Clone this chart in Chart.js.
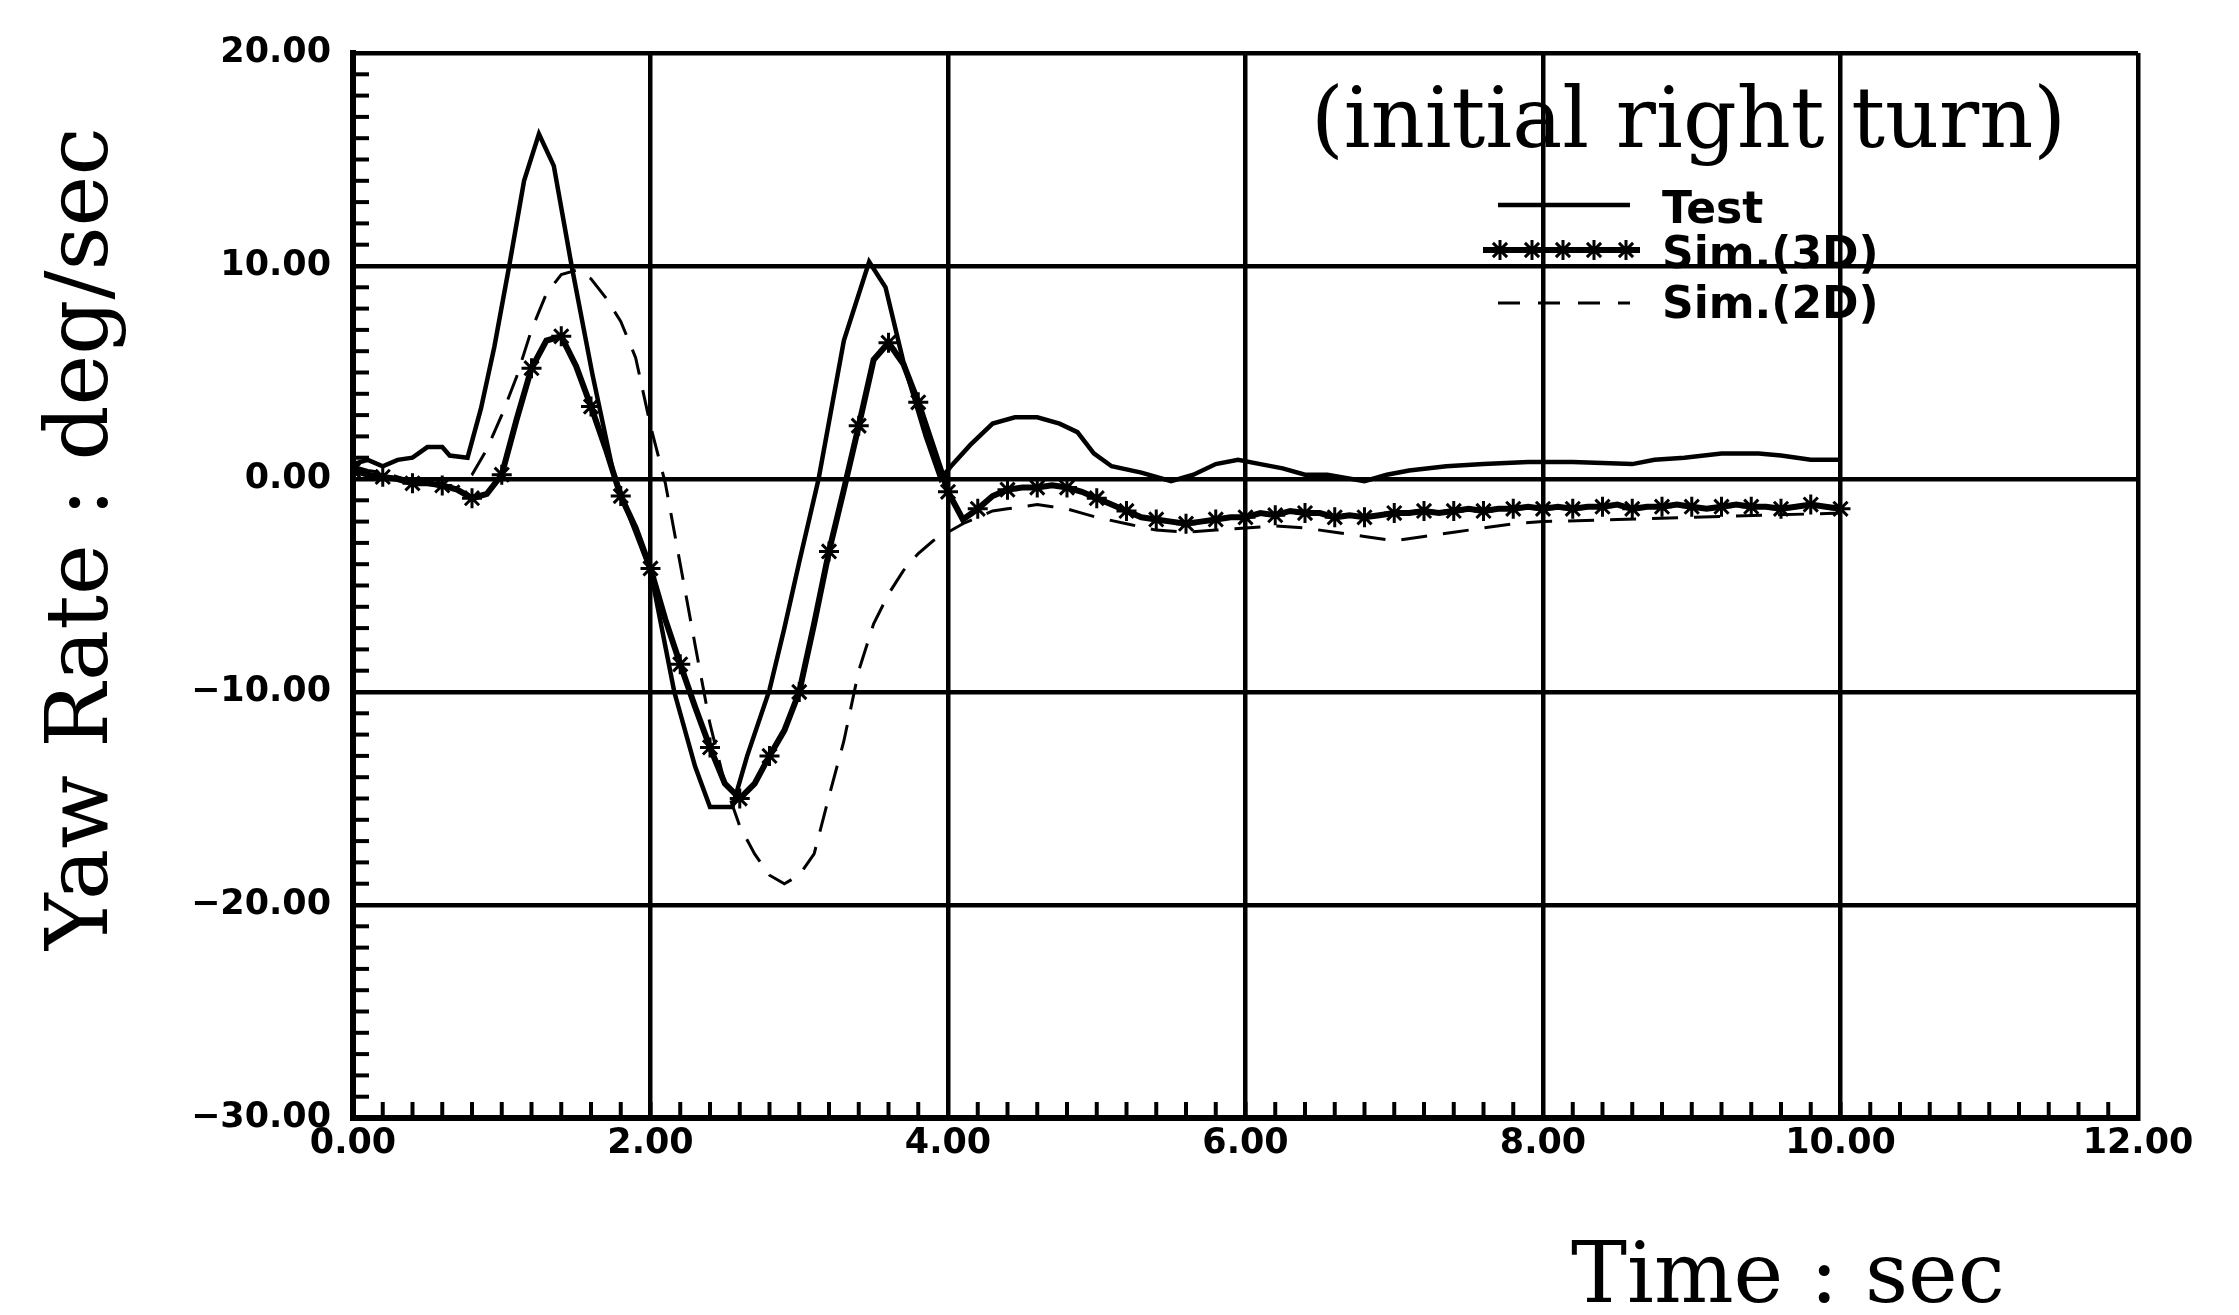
<!DOCTYPE html>
<html>
<head>
<meta charset="utf-8">
<title>Yaw Rate</title>
<script src="https://cdn.jsdelivr.net/npm/chart.js@4/dist/chart.umd.min.js"></script>
<style>
  html, body { margin: 0; padding: 0; background: #fff; }
  #wrap { width: 2239px; height: 1315px; }
</style>
</head>
<body>
<div id="wrap"><canvas id="yaw-chart" width="2239" height="1315"></canvas></div>
<script>
// axis ticks
const xTickValues = [0, 2, 4, 6, 8, 10, 12];
const xTickLabels = ['0.00', '2.00', '4.00', '6.00', '8.00', '10.00', '12.00'];
const yTickValues = [-30, -20, -10, 0, 10, 20];
const yTickLabels = ['\u221230.00', '\u221220.00', '\u221210.00', '0.00', '10.00', '20.00'];

const xTitle = 'Time : sec';
const yTitle = 'Yaw Rate : deg/sec';
const noteText = '(initial right turn)';
const seriesNames = ['Test', 'Sim.(3D)', 'Sim.(2D)'];

// Test (measured)
const testT = [0, 0.1, 0.2, 0.3, 0.4, 0.5, 0.6, 0.65, 0.77, 0.86, 0.95, 1.05, 1.15, 1.25,
  1.35, 1.47, 1.61, 1.75, 1.85, 2.0, 2.16, 2.3, 2.4, 2.55, 2.65, 2.8, 2.9, 3.0, 3.13,
  3.3, 3.47, 3.58, 3.7, 3.85, 3.95, 4.02, 4.15, 4.3, 4.45, 4.6, 4.75, 4.87, 4.98, 5.1,
  5.3, 5.5, 5.65, 5.8, 5.95, 6.1, 6.25, 6.4, 6.55, 6.8, 6.95, 7.1, 7.35, 7.6, 7.9, 8.2,
  8.6, 8.75, 8.95, 9.2, 9.45, 9.6, 9.8, 10.0];
const testY = [0.7, 0.9, 0.6, 0.9, 1.0, 1.5, 1.5, 1.1, 1.0, 3.3, 6.2, 10.0, 14.0, 16.2,
  14.7, 10.0, 4.9, 0.3, -1.6, -4.3, -10.0, -13.5, -15.4, -15.4, -13.0, -9.9, -7.0, -3.9, 0.0,
  6.5, 10.2, 9.0, 5.5, 2.0, 0.0, 0.6, 1.6, 2.6, 2.9, 2.9, 2.6, 2.2, 1.2, 0.6,
  0.3, -0.1, 0.2, 0.7, 0.9, 0.7, 0.5, 0.2, 0.2, -0.1, 0.2, 0.4, 0.6, 0.7, 0.8, 0.8,
  0.7, 0.9, 1.0, 1.2, 1.2, 1.1, 0.9, 0.9];

// Sim.(3D), sampled every 0.1 s
const sim3dT = [0.0, 0.1, 0.2, 0.3, 0.4, 0.5, 0.6, 0.7, 0.8, 0.9,
  1.0, 1.1, 1.2, 1.3, 1.4, 1.5, 1.6, 1.7, 1.8, 1.9,
  2.0, 2.1, 2.2, 2.3, 2.4, 2.5, 2.6, 2.7, 2.8, 2.9,
  3.0, 3.1, 3.2, 3.3, 3.4, 3.5, 3.6, 3.7, 3.8, 3.9,
  4.0, 4.1, 4.2, 4.3, 4.4, 4.5, 4.6, 4.7, 4.8, 4.9,
  5.0, 5.1, 5.2, 5.3, 5.4, 5.5, 5.6, 5.7, 5.8, 5.9,
  6.0, 6.1, 6.2, 6.3, 6.4, 6.5, 6.6, 6.7, 6.8, 6.9,
  7.0, 7.1, 7.2, 7.3, 7.4, 7.5, 7.6, 7.7, 7.8, 7.9,
  8.0, 8.1, 8.2, 8.3, 8.4, 8.5, 8.6, 8.7, 8.8, 8.9,
  9.0, 9.1, 9.2, 9.3, 9.4, 9.5, 9.6, 9.7, 9.8, 9.9, 10.0];
const sim3dY = [0.4, 0.2, 0.1, 0.0, -0.2, -0.2, -0.3, -0.5, -0.9, -0.7,
  0.2, 2.8, 5.2, 6.5, 6.7, 5.3, 3.4, 1.4, -0.8, -2.3,
  -4.2, -6.6, -8.7, -10.7, -12.6, -14.3, -15.0, -14.3, -13.0, -11.8,
  -10.0, -6.8, -3.4, -0.5, 2.5, 5.6, 6.4, 5.4, 3.6, 1.5,
  -0.6, -1.9, -1.4, -0.8, -0.5, -0.4, -0.4, -0.3, -0.4, -0.6,
  -0.9, -1.2, -1.5, -1.8, -1.9, -2.0, -2.1, -2.0, -1.9, -1.8,
  -1.8, -1.6, -1.7, -1.5, -1.6, -1.6, -1.8, -1.7, -1.8, -1.7,
  -1.6, -1.6, -1.5, -1.6, -1.5, -1.4, -1.5, -1.4, -1.4, -1.3,
  -1.4, -1.3, -1.4, -1.3, -1.3, -1.2, -1.4, -1.3, -1.3, -1.2,
  -1.3, -1.4, -1.3, -1.2, -1.3, -1.3, -1.4, -1.3, -1.2, -1.3, -1.4];

// Sim.(2D)
const sim2dT = [0.0, 0.1, 0.2, 0.3, 0.4, 0.5, 0.6, 0.7, 0.8, 0.9,
  1.0, 1.1, 1.2, 1.3, 1.4, 1.5, 1.6, 1.7, 1.8, 1.9,
  2.0, 2.1, 2.2, 2.3, 2.4, 2.5, 2.6, 2.7, 2.8, 2.9,
  3.0, 3.1, 3.2, 3.3, 3.4, 3.5, 3.6, 3.7, 3.8, 3.9,
  4.0, 4.1, 4.2, 4.3, 4.4, 4.5, 4.6, 4.7, 4.8, 4.9,
  5.0, 5.2, 5.4, 5.6, 5.8, 6.0, 6.2, 6.4, 6.6, 6.8,
  7.0, 7.2, 7.4, 7.6, 7.8, 8.0, 8.5, 9.0, 9.5, 10.0];
const sim2dY = [0.6, 0.4, 0.3, 0.1, -0.1, -0.2, -0.4, -0.4, 0.2, 1.4,
  3.0, 4.8, 7.0, 8.7, 9.6, 9.8, 9.4, 8.5, 7.4, 5.7,
  2.5, -0.2, -4.0, -7.8, -11.5, -14.3, -16.3, -17.6, -18.6, -19.0,
  -18.6, -17.6, -14.9, -12.3, -9.0, -6.8, -5.4, -4.3, -3.5, -2.9,
  -2.5, -2.1, -1.8, -1.5, -1.4, -1.3, -1.2, -1.3, -1.4, -1.6,
  -1.8, -2.1, -2.4, -2.5, -2.4, -2.3, -2.2, -2.3, -2.5, -2.7,
  -2.9, -2.7, -2.5, -2.3, -2.1, -2.0, -1.9, -1.8, -1.7, -1.6];

function pairs(ts, ys) {
  return ts.map((t, i) => ({ x: t, y: ys[i] }));
}

function drawStar(ctx, cx, cy, r) {
  ctx.beginPath();
  for (let k = 0; k < 4; k++) {
    const ang = k * Math.PI / 4;
    ctx.moveTo(cx - Math.cos(ang) * r, cy - Math.sin(ang) * r);
    ctx.lineTo(cx + Math.cos(ang) * r, cy + Math.sin(ang) * r);
  }
  ctx.stroke();
}

// minor ticks, titles, note and legend drawn on top of the chart
const paperPlugin = {
  id: 'paper',
  afterDraw(chart) {
    const ctx = chart.ctx;
    const a = chart.chartArea;
    const x = chart.scales.x;
    const y = chart.scales.y;
    ctx.save();
    ctx.strokeStyle = '#000';
    ctx.fillStyle = '#000';
    ctx.lineWidth = 4;
    ctx.setLineDash([]);

    // minor ticks: every 0.2 s on the time axis, every 1 deg/sec on the yaw axis
    for (let i = 1; i < 60; i++) {
      const px = x.getPixelForValue(i * 0.2);
      ctx.beginPath();
      ctx.moveTo(px, a.bottom);
      ctx.lineTo(px, a.bottom - 16);
      ctx.stroke();
    }
    for (let v = -29; v < 20; v++) {
      const py = y.getPixelForValue(v);
      ctx.beginPath();
      ctx.moveTo(a.left, py);
      ctx.lineTo(a.left + 16, py);
      ctx.stroke();
    }

    // titles
    ctx.font = '84px "DejaVu Serif"';
    ctx.textAlign = 'left';
    ctx.textBaseline = 'alphabetic';
    ctx.fillText(noteText, 1311, 147);
    ctx.fillText(xTitle, 1571, 1302);
    ctx.save();
    ctx.translate(107, 950);
    ctx.rotate(-Math.PI / 2);
    ctx.font = '86px "DejaVu Serif"';
    ctx.fillText(yTitle, 0, 0);
    ctx.restore();

    // legend
    const rows = [205, 250, 303];
    const bases = [223, 268, 318];
    ctx.font = 'bold 44px "DejaVu Sans"';
    chart.data.datasets.forEach((ds, i) => {
      const ly = rows[i];
      ctx.save();
      ctx.lineWidth = ds.borderWidth;
      ctx.setLineDash(ds.legendDash || []);
      ctx.beginPath();
      ctx.moveTo(i === 1 ? 1483 : 1498, ly);
      ctx.lineTo(i === 1 ? 1640 : 1630, ly);
      ctx.stroke();
      ctx.setLineDash([]);
      if (ds.pointStyle === 'star') {
        ctx.lineWidth = 3;
        [1500, 1532, 1563, 1594, 1626].forEach(sx => drawStar(ctx, sx, ly, 10));
      }
      ctx.restore();
      ctx.fillText(ds.label, 1662, bases[i]);
    });
    ctx.restore();
  }
};

window.addEventListener('DOMContentLoaded', function () {
  const canvas = document.getElementById('yaw-chart');
  const ctx = canvas.getContext('2d');
  const tickFont = { family: '"DejaVu Sans"', weight: 'bold', size: 35 };

  window.yawChart = new Chart(ctx, {
    type: 'line',
    data: {
      datasets: [{
        label: seriesNames[0],
        data: pairs(testT, testY),
        borderColor: '#000',
        borderWidth: 4.5,
        pointRadius: 0,
        tension: 0
      }, {
        label: seriesNames[1],
        data: pairs(sim3dT, sim3dY),
        borderColor: '#000',
        borderWidth: 6,
        pointStyle: 'star',
        pointRadius: c => (c.dataIndex % 2 === 0 ? 10 : 0),
        pointBorderWidth: 3,
        pointBorderColor: '#000',
        pointBackgroundColor: '#000',
        tension: 0
      }, {
        label: seriesNames[2],
        data: pairs(sim2dT, sim2dY),
        borderColor: '#000',
        borderWidth: 3,
        borderDash: [26, 16],
        legendDash: [22, 18],
        pointRadius: 0,
        tension: 0
      }]
    },
    options: {
      responsive: false,
      animation: false,
      devicePixelRatio: 1,
      layout: { padding: { left: 0, top: 53, right: 101, bottom: 0 } },
      plugins: {
        legend: { display: false },
        tooltip: { enabled: false }
      },
      scales: {
        x: {
          type: 'linear',
          min: 0,
          max: 12,
          afterBuildTicks: s => { s.ticks = xTickValues.map(v => ({ value: v })); },
          afterFit: s => { s.height = 197; },
          ticks: {
            color: '#000',
            font: tickFont,
            padding: 5,
            maxRotation: 0,
            autoSkip: false,
            callback: v => xTickLabels[xTickValues.indexOf(v)]
          },
          grid: { color: '#000', lineWidth: 4.5, drawTicks: false },
          border: { display: true, color: '#000', width: 6 }
        },
        y: {
          type: 'linear',
          min: -30,
          max: 20,
          afterBuildTicks: s => { s.ticks = yTickValues.map(v => ({ value: v })); },
          afterFit: s => { s.width = 353; },
          ticks: {
            color: '#000',
            font: tickFont,
            padding: 22,
            autoSkip: false,
            callback: v => yTickLabels[yTickValues.indexOf(v)]
          },
          grid: { color: '#000', lineWidth: 4.5, drawTicks: false },
          border: { display: true, color: '#000', width: 6 }
        }
      }
    },
    plugins: [paperPlugin]
  });
});
</script>
</body>
</html>
